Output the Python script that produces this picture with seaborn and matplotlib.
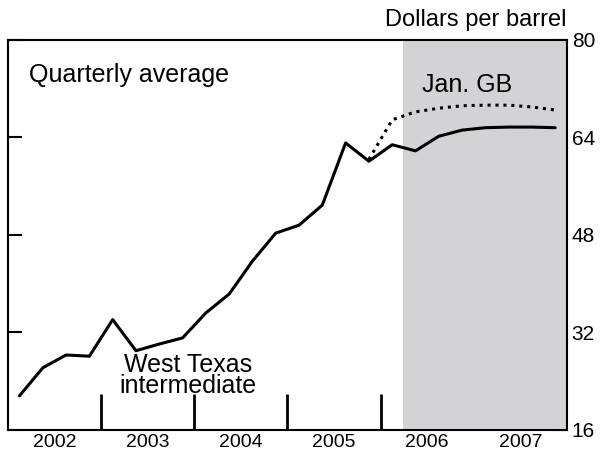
import matplotlib
matplotlib.use('Agg')
import matplotlib.pyplot as plt
import seaborn as sns
import numpy as np

sns.set_style('ticks')
plt.rcParams['font.family'] = ['Liberation Sans', 'DejaVu Sans']
plt.rcParams['text.color'] = 'black'
plt.rcParams['xtick.color'] = 'black'
plt.rcParams['ytick.color'] = 'black'
plt.rcParams['axes.edgecolor'] = 'black'

years = ['2002', '2003', '2004', '2005', '2006', '2007']
wti = [21.6, 26.2, 28.3, 28.1, 34.1, 29.0, 30.1, 31.1,
       35.2, 38.3, 43.7, 48.3, 49.6, 52.9, 63.1, 60.1,
       62.8, 61.8, 64.2, 65.2, 65.6, 65.7, 65.7, 65.6]
jan_gb = [60.4, 66.9, 68.2, 68.8, 69.2, 69.3, 69.3, 69.0, 68.5]

q = 2002 + np.arange(len(wti)) / 4 + 0.125
q_gb = q[15:15 + len(jan_gb)]

fig = plt.figure(figsize=(6.05, 4.54), dpi=100)
ax = fig.add_axes([0.013, 0.053, 0.924, 0.859])

ax.axvspan(2006.24, 2008, color='#d3d3d5', lw=0)
sns.lineplot(x=q, y=wti, ax=ax, color='black', lw=2.2)
sns.lineplot(x=q_gb, y=jan_gb, ax=ax, color='black', lw=2.2, linestyle=(0, (1, 1.6)))

ax.set_xlim(2002, 2008)
ax.set_ylim(16, 80)
ax.set_yticks([16, 32, 48, 64, 80])
ax.yaxis.tick_right()
ax.tick_params(axis='y', which='both', direction='in', length=10, width=1.5,
               labelsize=15, left=True, right=True)
ax.set_xticks(np.arange(2003, 2008))
ax.set_xticklabels([])
ax.tick_params(axis='x', which='major', direction='in', length=26, width=2)
ax.set_xticks(np.arange(2002, 2008) + 0.5, minor=True)
ax.set_xticklabels(years, minor=True, fontsize=14)
ax.tick_params(axis='x', which='minor', length=0, pad=3)
for s in ax.spines.values():
    s.set_linewidth(1.5)

ax.text(2002.23, 74.2, 'Quarterly average', fontsize=18, va='center')
ax.text(2008, 81.5, 'Dollars per barrel', fontsize=17, ha='right', va='bottom')
ax.text(2006.45, 72.6, 'Jan. GB', fontsize=18, va='center')
ax.text(2003.93, 24.9, 'West Texas\nintermediate', fontsize=18, ha='center',
        va='center', linespacing=0.85)

fig.savefig('out.png', dpi=100)
